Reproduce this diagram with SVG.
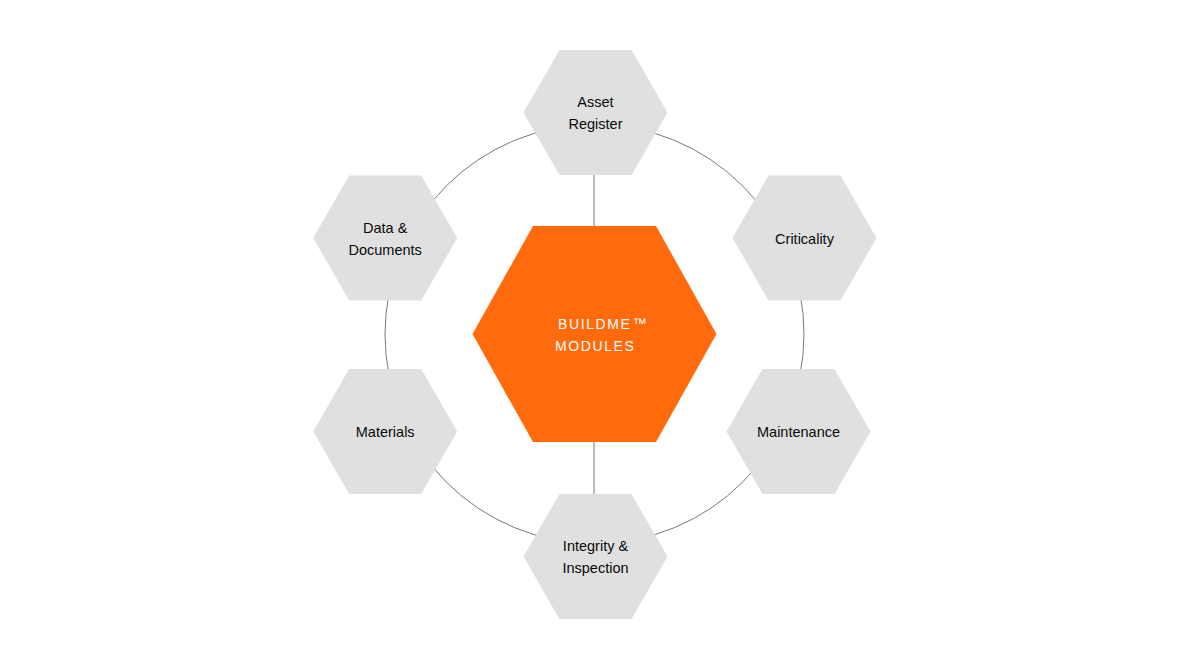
<svg xmlns="http://www.w3.org/2000/svg" width="1190" height="669" viewBox="0 0 1190 669">
<style>
.hex{fill:#e0e0e0}
.core{fill:#ff6a0c}
.lbl{font-family:"Liberation Sans",Arial,sans-serif;font-size:14.5px;fill:#0a0a0a;text-anchor:middle}
.clbl{font-family:"Liberation Sans",Arial,sans-serif;font-size:14px;fill:#fff;letter-spacing:1.6px}
.conn{fill:none;stroke:#555;stroke-width:0.8}
</style>
<defs>
<polygon id="hx" points="-72,0 -36,-62.5 36,-62.5 72,0 36,62.5 -36,62.5"/>
</defs>
<rect width="1190" height="669" fill="#fff"/>
<g id="connectors">
<circle class="conn" cx="594.5" cy="334" r="209.5"/>
<line class="conn" x1="594" y1="175" x2="594" y2="227"/>
<line class="conn" x1="594" y1="441" x2="594" y2="494"/>
</g>
<g id="core">
<polygon class="core" points="472.5,334 533,226 656,226 716.5,334 656,442 533,442"/>
<text class="clbl" x="558" y="329">BUILDME<tspan dx="1" dy="-1">™</tspan></text>
<text class="clbl" x="555" y="351">MODULES</text>
</g>
<g id="asset-register">
<use href="#hx" class="hex" x="595.5" y="112.5"/>
<text class="lbl" x="595.5" y="107">Asset</text>
<text class="lbl" x="595.5" y="129">Register</text>
</g>
<g id="criticality">
<use href="#hx" class="hex" x="804.5" y="238"/>
<text class="lbl" x="804.5" y="244">Criticality</text>
</g>
<g id="maintenance">
<use href="#hx" class="hex" x="798.5" y="431.5"/>
<text class="lbl" x="798.5" y="437">Maintenance</text>
</g>
<g id="integrity-inspection">
<use href="#hx" class="hex" x="595.5" y="556.5"/>
<text class="lbl" x="595.5" y="551">Integrity &amp;</text>
<text class="lbl" x="595.5" y="573">Inspection</text>
</g>
<g id="materials">
<use href="#hx" class="hex" x="385.2" y="431.5"/>
<text class="lbl" x="385.2" y="437">Materials</text>
</g>
<g id="data-documents">
<use href="#hx" class="hex" x="385.2" y="238"/>
<text class="lbl" x="385.2" y="233">Data &amp;</text>
<text class="lbl" x="385.2" y="255">Documents</text>
</g>
</svg>
